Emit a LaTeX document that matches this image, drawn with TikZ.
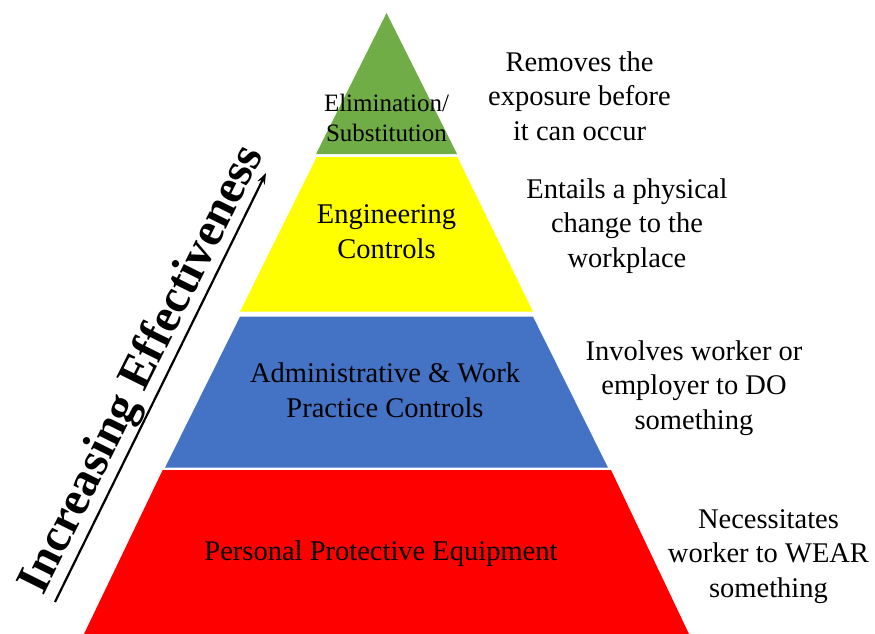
\documentclass[tikz,border=0pt]{standalone}
\usepackage{fontspec}
\setmainfont{Liberation Serif}
\usetikzlibrary{arrows.meta}
\definecolor{elimgreen}{HTML}{70AD47}
\definecolor{enggyellow}{HTML}{FFFF00}
\definecolor{adminblue}{HTML}{4472C4}
\definecolor{ppered}{HTML}{FF0000}
\begin{document}
\begin{tikzpicture}[x=1pt,y=-1pt,
  lbl/.style={align=center, inner sep=0pt, anchor=base, font=\fontsize{28.5}{34.5}\selectfont},
  smalllbl/.style={align=center, inner sep=0pt, anchor=base, font=\fontsize{25}{30.7}\selectfont},
  sidetxt/.style={align=center, inner sep=0pt, anchor=base, font=\fontsize{28.5}{34.5}\selectfont},
  effarrow/.style={line width=2.2pt, -{Stealth[length=11pt,width=8pt]}}]
\useasboundingbox (0,0) rectangle (875,634);
% pyramid layers
\fill[elimgreen] (386.5,13) -- (457,154) -- (316,154) -- cycle;
\fill[enggyellow] (316.7,157) -- (457.3,157) -- (533,311.7) -- (240,311.7) -- cycle;
\fill[adminblue] (240,316.7) -- (533,316.7) -- (608,467.7) -- (165,467.7) -- cycle;
\fill[ppered] (162.7,470) -- (611,470) -- (689,634) -- (84,634) -- cycle;
% layer labels (base anchor = baseline of the last line)
\node[smalllbl] (elim) at (386.5,141.7) {Elimination/\\Substitution};
\node[lbl] (eng) at (386.5,258) {Engineering\\Controls};
\node[lbl] (adm) at (385,417) {Administrative \& Work\\Practice Controls};
\node[lbl] (ppe) at (381,560) {Personal Protective Equipment};
% side texts
\node[sidetxt] (d1) at (579.5,140) {Removes the\\exposure before\\it can occur};
\node[sidetxt] (d2) at (627,267) {Entails a physical\\change to the\\workplace};
\node[sidetxt] (d3) at (694,429) {Involves worker or\\employer to DO\\something};
\node[sidetxt] (d4) at (768.5,597) {Necessitates\\worker to WEAR\\something};
% effectiveness arrow
\coordinate (arrtail) at (55,602);
\coordinate (arrhead) at (266,173);
\draw[effarrow] (arrtail) -- (arrhead);
\node[anchor=base west, inner sep=0pt, rotate=63.5, font=\bfseries\fontsize{48}{58}\selectfont] (inc) at (43.3,596.3) {Increasing Effectiveness};
\end{tikzpicture}
\end{document}
